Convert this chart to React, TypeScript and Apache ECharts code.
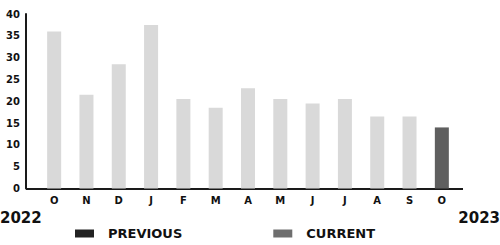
import React, { useEffect, useRef } from "react";
import * as echarts from "echarts";

const months = ["O", "N", "D", "J", "F", "M", "A", "M", "J", "J", "A", "S", "O"];
const previousValues = [36, 21.5, 28.5, 37.5, 20.5, 18.5, 23, 20.5, 19.5, 20.5, 16.5, 16.5, null];
const currentValues = [null, null, null, null, null, null, null, null, null, null, null, null, 14];
const yearLabels = ["2022", "2023"];
const legendNames = ["PREVIOUS", "CURRENT"];

export default function App() {
  const ref = useRef<HTMLDivElement>(null);
  useEffect(() => {
    if (!ref.current) return;
    const chart = echarts.init(ref.current, undefined, { renderer: "svg" });
    const axisColor = "#1a1a1a";
    chart.setOption({
      animation: false,
      backgroundColor: "#ffffff",
      grid: { left: 38, right: 42, top: 14, bottom: 56.5, containLabel: false },
      legend: {
        left: 70,
        top: 225,
        padding: [2, 5, 2, 5],
        itemWidth: 19,
        itemHeight: 8,
        itemGap: 91,
        icon: "rect",
        data: [
          { name: legendNames[0], itemStyle: { color: "#222222" } },
          { name: legendNames[1], itemStyle: { color: "#6e6e6e" } },
        ],
        textStyle: {
          fontFamily: "DejaVu Sans",
          fontWeight: "bold",
          fontSize: 13,
          color: "#111",
          padding: [0, 0, 0, 9],
        },
      },
      xAxis: {
        type: "category",
        data: months,
        axisLine: { show: false },
        axisTick: { show: false },
        axisLabel: {
          interval: 0,
          margin: 7,
          fontFamily: "DejaVu Sans",
          fontWeight: "bold",
          fontSize: 10,
          color: "#111",
        },
      },
      yAxis: {
        type: "value",
        min: 0,
        max: 40,
        interval: 5,
        offset: 12,
        splitLine: { show: false },
        axisLine: { show: true, lineStyle: { color: axisColor, width: 2 } },
        axisTick: { show: false },
        axisLabel: {
          margin: 6,
          fontFamily: "DejaVu Sans",
          fontWeight: "bold",
          fontSize: 10,
          color: "#111",
        },
      },
      graphic: [
        {
          type: "line",
          shape: { x1: 26, y1: 189, x2: 463, y2: 189 },
          style: { stroke: axisColor, lineWidth: 2 },
        },
        {
          type: "text",
          left: 0,
          top: 210,
          style: {
            text: yearLabels[0],
            font: "bold 15px 'DejaVu Sans'",
            fill: "#111",
          },
        },
        {
          type: "text",
          right: 0,
          top: 210,
          style: {
            text: yearLabels[1],
            font: "bold 15px 'DejaVu Sans'",
            fill: "#111",
          },
        },
      ],
      series: [
        {
          name: legendNames[0],
          type: "bar",
          stack: "a",
          barWidth: 14,
          data: previousValues,
          itemStyle: { color: "#d9d9d9" },
        },
        {
          name: legendNames[1],
          type: "bar",
          stack: "a",
          barWidth: 14,
          data: currentValues,
          itemStyle: { color: "#5f5f5f" },
        },
      ],
    });
    return () => chart.dispose();
  }, []);
  return (
    <div
      ref={ref}
      style={{ position: "fixed", left: 0, top: 0, width: 500, height: 245 }}
    />
  );
}
